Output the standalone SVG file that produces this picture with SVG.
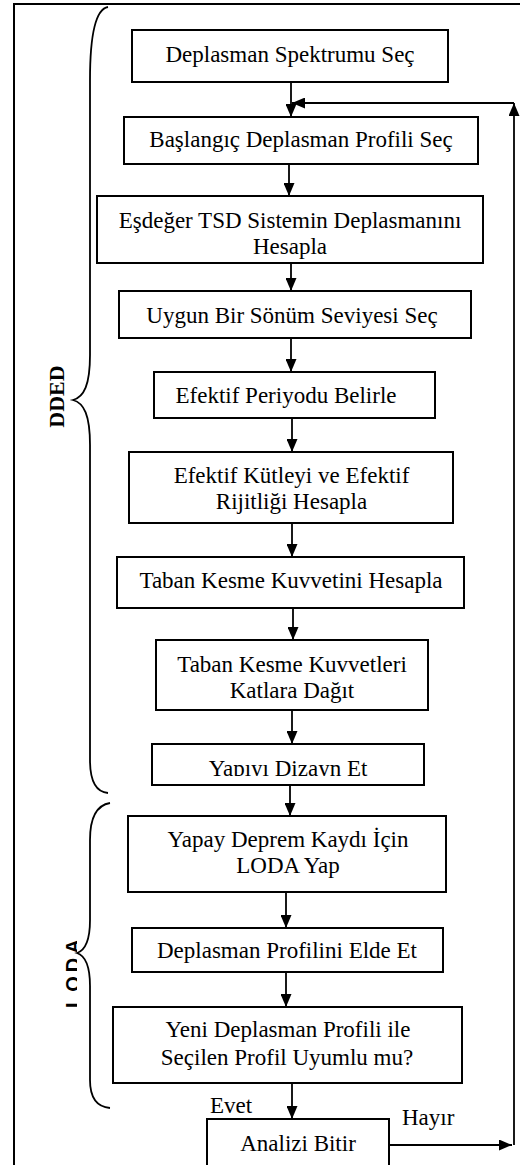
<svg xmlns="http://www.w3.org/2000/svg" width="520" height="1165" viewBox="0 0 520 1165">
<style>
.box{fill:#fff;stroke:#000;stroke-width:2}
.t{font-family:"Liberation Serif","Times New Roman",serif;font-size:23px;fill:#000;text-anchor:middle}
.lbl{font-family:"Liberation Serif","Times New Roman",serif;font-size:23px;fill:#000}
.ln{stroke:#000;stroke-width:1.8;fill:none}
.br{stroke:#000;stroke-width:1.8;fill:none}
</style>
<defs>
<marker id="ah" viewBox="0 0 13 11" refX="13" refY="5.5" markerWidth="13" markerHeight="11" orient="auto" markerUnits="userSpaceOnUse">
<path d="M0,0 L13,5.5 L0,11 z" fill="#000"/>
</marker>
<clipPath id="clip9"><rect x="150" y="740" width="280" height="36"/></clipPath>
<clipPath id="clipLoda"><rect x="40" y="920" width="37" height="100"/></clipPath>
</defs>
<rect x="14" y="4" width="520" height="1200" fill="none" stroke="#000" stroke-width="2"/>
<g id="braces">
<path class="br" d="M108,7 C96,9 90,35 90,80 L90,355 C90,385 84,397 73,400 C84,403 90,415 90,445 L90,760 C90,782 96,792 108,793"/>
<text transform="translate(64,396.5) rotate(-90)" style="font-family:'Liberation Serif','Times New Roman',serif;font-size:22px;font-weight:bold;text-anchor:middle">DDED</text>
<path class="br" d="M110,803 C98,805 90,815 90,840 L90,920 C90,940 86,950 77,953 C86,956 90,966 90,986 L90,1080 C90,1100 98,1107 110,1108"/>
<g clip-path="url(#clipLoda)">
<text transform="translate(80,1008) rotate(-90)" style="font-family:'Liberation Sans',Arial,sans-serif;font-size:20px;font-weight:bold;letter-spacing:4px">LODA</text>
</g>
</g>
<g id="connectors">
<line class="ln" x1="291" y1="82" x2="291" y2="117" marker-end="url(#ah)"/>
<line class="ln" x1="289" y1="164" x2="289" y2="196" marker-end="url(#ah)"/>
<line class="ln" x1="291" y1="263" x2="291" y2="291" marker-end="url(#ah)"/>
<line class="ln" x1="291" y1="338" x2="291" y2="372" marker-end="url(#ah)"/>
<line class="ln" x1="292" y1="418" x2="292" y2="452" marker-end="url(#ah)"/>
<line class="ln" x1="292" y1="523" x2="292" y2="557" marker-end="url(#ah)"/>
<line class="ln" x1="293" y1="608" x2="293" y2="640" marker-end="url(#ah)"/>
<line class="ln" x1="292" y1="710" x2="292" y2="744" marker-end="url(#ah)"/>
<line class="ln" x1="290" y1="785" x2="290" y2="816" marker-end="url(#ah)"/>
<line class="ln" x1="286" y1="892" x2="286" y2="928" marker-end="url(#ah)"/>
<line class="ln" x1="286" y1="969" x2="286" y2="1007" marker-end="url(#ah)"/>
<line class="ln" x1="292" y1="1083" x2="292" y2="1119" marker-end="url(#ah)"/>
<line class="ln" x1="389" y1="1145" x2="512" y2="1145" marker-end="url(#ah)"/>
<line class="ln" x1="514" y1="1145" x2="514" y2="103" marker-end="url(#ah)"/>
<line class="ln" x1="514" y1="103" x2="292" y2="103" marker-end="url(#ah)"/>
</g>
<g id="n1"><rect class="box" x="132" y="30" width="316" height="52"/><text class="t" x="290" y="62">Deplasman Spektrumu Seç</text></g>
<g id="n2"><rect class="box" x="124" y="117" width="354" height="47"/><text class="t" x="301" y="147">Başlangıç Deplasman Profili Seç</text></g>
<g id="n3"><rect class="box" x="97" y="196" width="386" height="67"/><text class="t" x="290" y="228">Eşdeğer TSD Sistemin Deplasmanını</text><text class="t" x="290" y="254">Hesapla</text></g>
<g id="n4"><rect class="box" x="119" y="291" width="352" height="47"/><text class="t" x="292" y="323">Uygun Bir Sönüm Seviyesi Seç</text></g>
<g id="n5"><rect class="box" x="154" y="372" width="281" height="46"/><text class="t" x="286" y="403">Efektif Periyodu Belirle</text></g>
<g id="n6"><rect class="box" x="129" y="452" width="324" height="71"/><text class="t" x="291.5" y="483">Efektif Kütleyi ve Efektif</text><text class="t" x="291.5" y="509">Rijitliği Hesapla</text></g>
<g id="n7"><rect class="box" x="117" y="557" width="347" height="51"/><text class="t" x="291" y="588">Taban Kesme Kuvvetini Hesapla</text></g>
<g id="n8"><rect class="box" x="156" y="640" width="272" height="70"/><text class="t" x="292" y="672">Taban Kesme Kuvvetleri</text><text class="t" x="292" y="698">Katlara Dağıt</text></g>
<g id="n9"><rect class="box" x="152" y="744" width="272" height="41"/><g clip-path="url(#clip9)"><text class="t" x="288" y="776">Yapıyı Dizayn Et</text></g></g>
<g id="n10"><rect class="box" x="128" y="816" width="318" height="76"/><text class="t" x="288" y="847">Yapay Deprem Kaydı İçin</text><text class="t" x="288" y="873">LODA Yap</text></g>
<g id="n11"><rect class="box" x="132" y="928" width="311" height="44"/><text class="t" x="287" y="958">Deplasman Profilini Elde Et</text></g>
<g id="n12"><rect class="box" x="113" y="1007" width="349" height="76"/><text class="t" x="288" y="1037">Yeni Deplasman Profili ile</text><text class="t" x="287" y="1065">Seçilen Profil Uyumlu mu?</text></g>
<g id="n13"><rect class="box" x="207" y="1119" width="182" height="60"/><text class="t" x="298" y="1151">Analizi Bitir</text></g>
<g id="labels"><text class="lbl" x="210" y="1113">Evet</text><text class="lbl" x="402" y="1125">Hayır</text></g>
</svg>
